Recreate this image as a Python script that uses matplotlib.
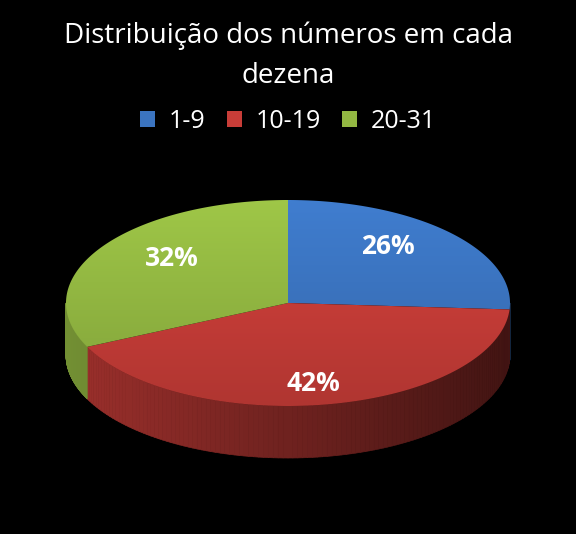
"""
    3D-style pie: Distribuicao dos numeros em cada dezena
"""
import numpy as np
import matplotlib
matplotlib.use("Agg")
from matplotlib import pyplot as plt
from matplotlib.patches import Polygon, Patch
from matplotlib.collections import PolyCollection

labels = ["1-9", "10-19", "20-31"]
values = [26, 42, 32]
colors = ["#3B74C0", "#C83D38", "#93B842"]

title = "Distribuição dos números em cada\ndezena"

# pie geometry in pixel coordinates
CX, CY = 288, 303
A, B = 222, 103
DEPTH = 52
START = 90.0


def ellipse_pt(theta, dy=0.0):
    t = np.radians(theta)
    return CX + A * np.cos(t), CY - B * np.sin(t) + dy


def shade(color, f):
    rgb = np.array(matplotlib.colors.to_rgb(color))
    return tuple(np.clip(rgb * f, 0, 1))


def slice_angles(vals):
    total = float(sum(vals))
    angles = []
    a0 = START
    for v in vals:
        a1 = a0 - 360.0 * v / total
        angles.append((a1, a0))
        a0 = a1
    return angles


def draw_sides(ax, angles):
    '''front wall, only the part with sin < 0 is visible'''
    for (a1, a0), color in zip(angles, colors):
        lo, hi = a1, a0
        for shift in (0, -360, 360):
            s_lo, s_hi = max(lo + shift, -180), min(hi + shift, 0)
            if s_hi <= s_lo:
                continue
            th = np.linspace(s_lo, s_hi, 120)
            quads, fcs = [], []
            for t0, t1 in zip(th[:-1], th[1:]):
                x0, y0 = ellipse_pt(t0)
                x1, y1 = ellipse_pt(t1)
                quads.append([(x0, y0), (x1, y1), (x1, y1 + DEPTH),
                              (x0, y0 + DEPTH)])
                xm = (x0 + x1) / 2.0
                u = (xm - (CX - A)) / (2 * A)
                fcs.append(shade(color, 0.78 - 0.45 * u))
            ax.add_collection(PolyCollection(quads, facecolors=fcs,
                                             edgecolors=fcs, linewidths=0.5))


def draw_top(ax, angles):
    '''top surface with a soft vertical gradient'''
    for (a1, a0), color in zip(angles, colors):
        th = np.linspace(a0, a1, 200)
        pts = [(CX, CY)] + [ellipse_pt(t) for t in th]
        poly = Polygon(pts, closed=True, facecolor="none", edgecolor="none")
        ax.add_patch(poly)
        ys = np.linspace(0, 1, 256)[:, None]
        base = np.array(matplotlib.colors.to_rgb(color))
        grad = np.clip(base[None, None, :] * (1.08 - 0.2 * ys[:, :, None]), 0, 1)
        grad = np.repeat(grad, 2, axis=1)
        im = ax.imshow(grad, extent=(CX - A, CX + A, CY + B, CY - B),
                       aspect="auto", interpolation="bilinear", zorder=2)
        im.set_clip_path(poly)


def draw_labels(ax, angles, vals):
    total = float(sum(vals))
    for (a1, a0), v in zip(angles, vals):
        mid = np.radians((a0 + a1) / 2.0)
        x = CX + 0.62 * A * np.cos(mid)
        y = CY - 0.8 * B * np.sin(mid)
        ax.text(x, y, "{:.0f}%".format(100 * v / total), color="white",
                fontsize=19, fontweight="bold", ha="center", va="center",
                family="Open Sans", zorder=5)


if __name__ == '__main__':
    fig = plt.figure(figsize=(5.76, 5.34), dpi=100, facecolor="black")
    ax = fig.add_axes([0, 0, 1, 1])
    ax.set_facecolor("black")
    ax.set_xlim(0, 576)
    ax.set_ylim(534, 0)
    ax.axis("off")

    angles = slice_angles(values)
    draw_sides(ax, angles)
    draw_top(ax, angles)
    ax.set_xlim(0, 576)
    ax.set_ylim(534, 0)
    draw_labels(ax, angles, values)

    ax.text(288, 56, title, color="white", fontsize=20, ha="center",
            va="center", family="Open Sans", linespacing=1.55)

    handles = [Patch(facecolor=c, edgecolor="none") for c in colors]
    ax.legend(handles, labels, loc="center", ncol=3,
              bbox_to_anchor=(0.5, 1 - 121 / 534.0), frameon=False,
              labelcolor="white", prop={"family": "Open Sans", "size": 18},
              handlelength=0.6, handleheight=0.6, handletextpad=0.55,
              columnspacing=0.85)

    plt.savefig("out.png", dpi=100, facecolor="black")
